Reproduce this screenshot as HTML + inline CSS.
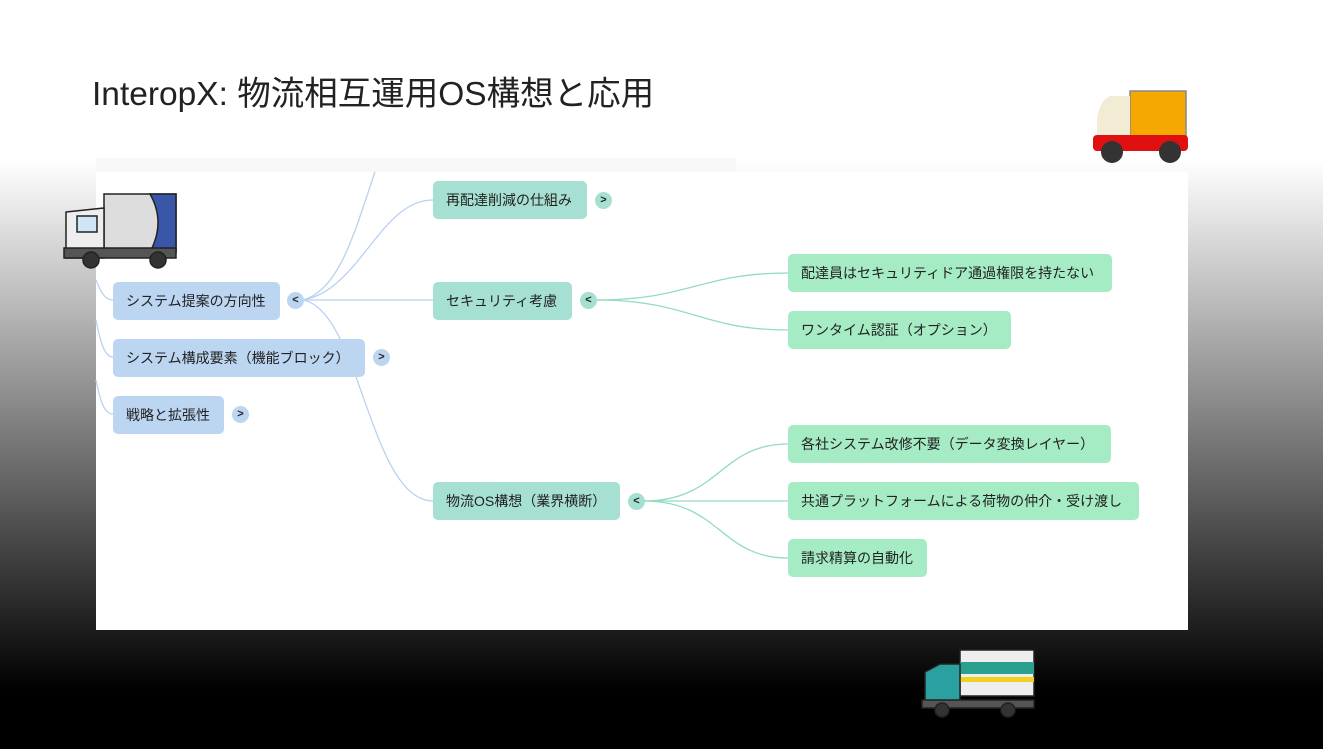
<!DOCTYPE html>
<html><head><meta charset="utf-8"><style>
body{margin:0;width:1323px;height:749px;overflow:hidden;position:relative;font-family:"Liberation Sans","Noto Sans CJK JP",sans-serif;background:linear-gradient(to bottom,#fff 0,#fff 160px,#000 690px,#000 749px)}
.t{position:absolute;left:92px;top:66px;font-size:33.5px;color:#222}
.panel{position:absolute;left:96px;top:172px;width:1092px;height:458px;background:#fff}
.strip{position:absolute;left:96px;top:158px;width:640px;height:14px;background:#f8f8f8}
.n{position:absolute;height:38px;line-height:38px;border-radius:5px;font-size:14px;color:#222;padding-left:13px;box-sizing:border-box}
.b{background:#bcd5f0}.g{background:#a6e0d2}.l{background:#a5ebc4}
.c{position:absolute;width:17px;height:17px;border-radius:50%;font-size:11px;font-weight:bold;text-align:center;line-height:17px;color:#222}
svg{position:absolute;left:0;top:0}
</style></head><body>
<div class="t">InteropX: 物流相互運用OS構想と応用</div>
<div class="strip"></div>
<div class="panel"></div>
<svg width="1323" height="749" fill="none" stroke-width="1.3">
<g stroke="#b9d2f0">
<path d="M96 280 C100 290,104 300,113 300"/>
<path d="M96 320 C100 340,104 357,113 357"/>
<path d="M96 380 C100 400,104 414,113 414"/>
<path d="M303 300 C340 290,355 230,375 172"/>
<path d="M303 300 C360 290,380 200,433 200"/>
<path d="M303 300 L433 300"/>
<path d="M303 300 C360 310,370 501,433 501"/>
</g>
<g stroke="#93dcc0">
<path d="M596 300 C690 300,700 273,788 273"/>
<path d="M596 300 C690 300,700 330,788 330"/>
<path d="M644 501 C720 501,720 444,788 444"/>
<path d="M644 501 L788 501"/>
<path d="M644 501 C720 501,720 558,788 558"/>
</g>
</svg>
<div class="n b" style="left:113px;top:282px;width:167px">システム提案の方向性</div><div class="c b" style="left:287px;top:292px">&lt;</div>
<div class="n b" style="left:113px;top:339px;width:252px">システム構成要素（機能ブロック）</div><div class="c b" style="left:373px;top:349px">&gt;</div>
<div class="n b" style="left:113px;top:396px;width:111px">戦略と拡張性</div><div class="c b" style="left:232px;top:406px">&gt;</div>
<div class="n g" style="left:433px;top:181px;width:154px">再配達削減の仕組み</div><div class="c g" style="left:595px;top:192px">&gt;</div>
<div class="n g" style="left:433px;top:282px;width:139px">セキュリティ考慮</div><div class="c g" style="left:580px;top:292px">&lt;</div>
<div class="n g" style="left:433px;top:482px;width:187px">物流OS構想（業界横断）</div><div class="c g" style="left:628px;top:493px">&lt;</div>
<div class="n l" style="left:788px;top:254px;width:324px">配達員はセキュリティドア通過権限を持たない</div>
<div class="n l" style="left:788px;top:311px;width:223px">ワンタイム認証（オプション）</div>
<div class="n l" style="left:788px;top:425px;width:323px">各社システム改修不要（データ変換レイヤー）</div>
<div class="n l" style="left:788px;top:482px;width:351px">共通プラットフォームによる荷物の仲介・受け渡し</div>
<div class="n l" style="left:788px;top:539px;width:139px">請求精算の自動化</div>
<svg width="1323" height="749" stroke="#222" stroke-width="1.5">
<rect x="104" y="194" width="72" height="58" fill="#ddd"/>
<path d="M150 194 Q166 222 150 252 L176 252 L176 194Z" fill="#3a56a8"/>
<path d="M66 212 L104 208 L104 258 L66 258Z" fill="#eee"/>
<rect x="77" y="216" width="20" height="16" fill="#cfe6f5"/>
<rect x="64" y="248" width="112" height="10" fill="#555"/>
<circle cx="91" cy="260" r="8" fill="#333"/><circle cx="158" cy="260" r="8" fill="#333"/>
<rect x="1130" y="91" width="56" height="52" fill="#f5a800" stroke="#888"/>
<path d="M1097 140 L1097 118 Q1100 100 1110 96 L1130 96 L1130 140Z" fill="#f3ecd4" stroke="none"/>
<rect x="1093" y="135" width="95" height="16" rx="4" fill="#e01010" stroke="none"/>
<circle cx="1112" cy="152" r="11" fill="#333" stroke="none"/><circle cx="1170" cy="152" r="11" fill="#333" stroke="none"/>
<rect x="960" y="650" width="74" height="46" fill="#eee"/>
<rect x="960" y="662" width="74" height="12" fill="#2aa090" stroke="none"/>
<rect x="960" y="677" width="74" height="5" fill="#f0d020" stroke="none"/>
<path d="M925 672 L940 664 L960 664 L960 705 L925 705Z" fill="#2aa0a0"/>
<rect x="922" y="700" width="112" height="8" fill="#555"/>
<circle cx="942" cy="710" r="7" fill="#333"/><circle cx="1008" cy="710" r="7" fill="#333"/>
</svg>
</body></html>
